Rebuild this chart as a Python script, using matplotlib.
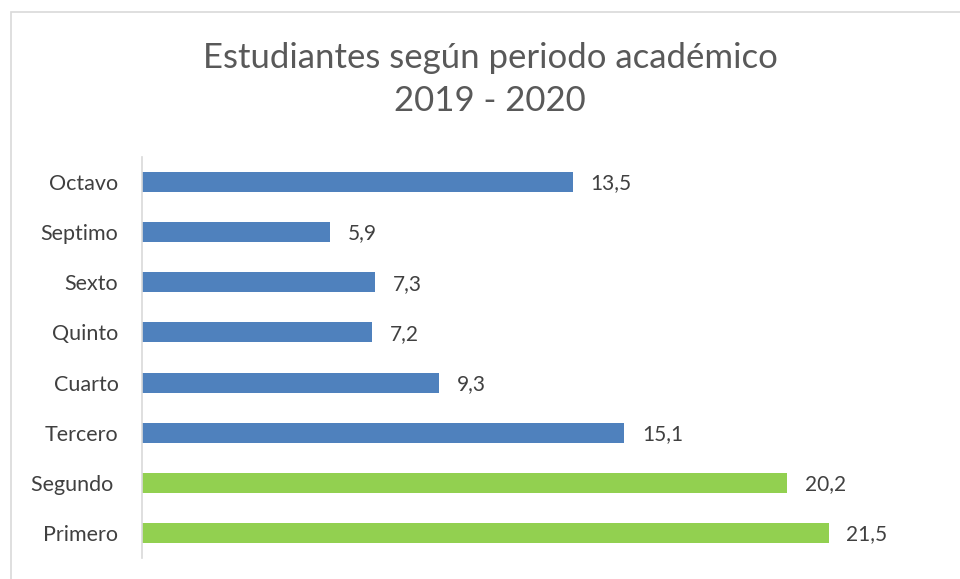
import matplotlib
matplotlib.use('Agg')
import matplotlib.pyplot as plt
from matplotlib.patches import Rectangle

# datos del grafico
periodos = ['Primero', 'Segundo ', 'Tercero', 'Cuarto', 'Quinto', 'Sexto', 'Septimo', 'Octavo']
estudiantes = [21.5, 20.2, 15.1, 9.3, 7.2, 7.3, 5.9, 13.5]
etiquetas = ['21,5', '20,2', '15,1', '9,3', '7,2', '7,3', '5,9', '13,5']
colores = ['#92D050', '#92D050', '#4F81BD', '#4F81BD', '#4F81BD', '#4F81BD', '#4F81BD', '#4F81BD']

plt.rcParams['font.family'] = ['Lato', 'DejaVu Sans']

W, H = 960, 579
fig = plt.figure(figsize=(W / 100, H / 100), dpi=100)
fig.patches.append(Rectangle((11 / W, -0.1), 1.2, 1 - 12 / H + 0.1, transform=fig.transFigure,
                             fill=False, edgecolor='#D9D9D9', linewidth=1.2))

ax = fig.add_axes([142 / W, 1 - 558 / H, 800 / W, 401 / H])
y = range(len(periodos))
ax.barh(y, estudiantes, height=0.4, color=colores)
ax.set_xlim(0, 25.04)
ax.set_ylim(-0.5, 7.5)
ax.set_yticks(list(y))
ax.set_yticklabels(periodos, fontsize=15.5, color='#404040')
ax.tick_params(axis='y', length=0, pad=17)
ax.set_xticks([])
for s in ['top', 'right', 'bottom']:
    ax.spines[s].set_visible(False)
ax.spines['left'].set_color('#D9D9D9')
ax.spines['left'].set_linewidth(1.2)

for i, (v, t) in enumerate(zip(estudiantes, etiquetas)):
    ax.annotate(t, (v, i), xytext=(12.5, -1), textcoords='offset points', va='center',
                ha='left', fontsize=15, color='#404040')

fig.text(490 / W, 1 - 58 / H, 'Estudiantes según periodo académico', ha='center', va='center',
         fontsize=25, color='#595959')
fig.text(490 / W, 1 - 101 / H, '2019 - 2020', ha='center', va='center',
         fontsize=25, color='#595959')

fig.savefig('out.png', dpi=100)
